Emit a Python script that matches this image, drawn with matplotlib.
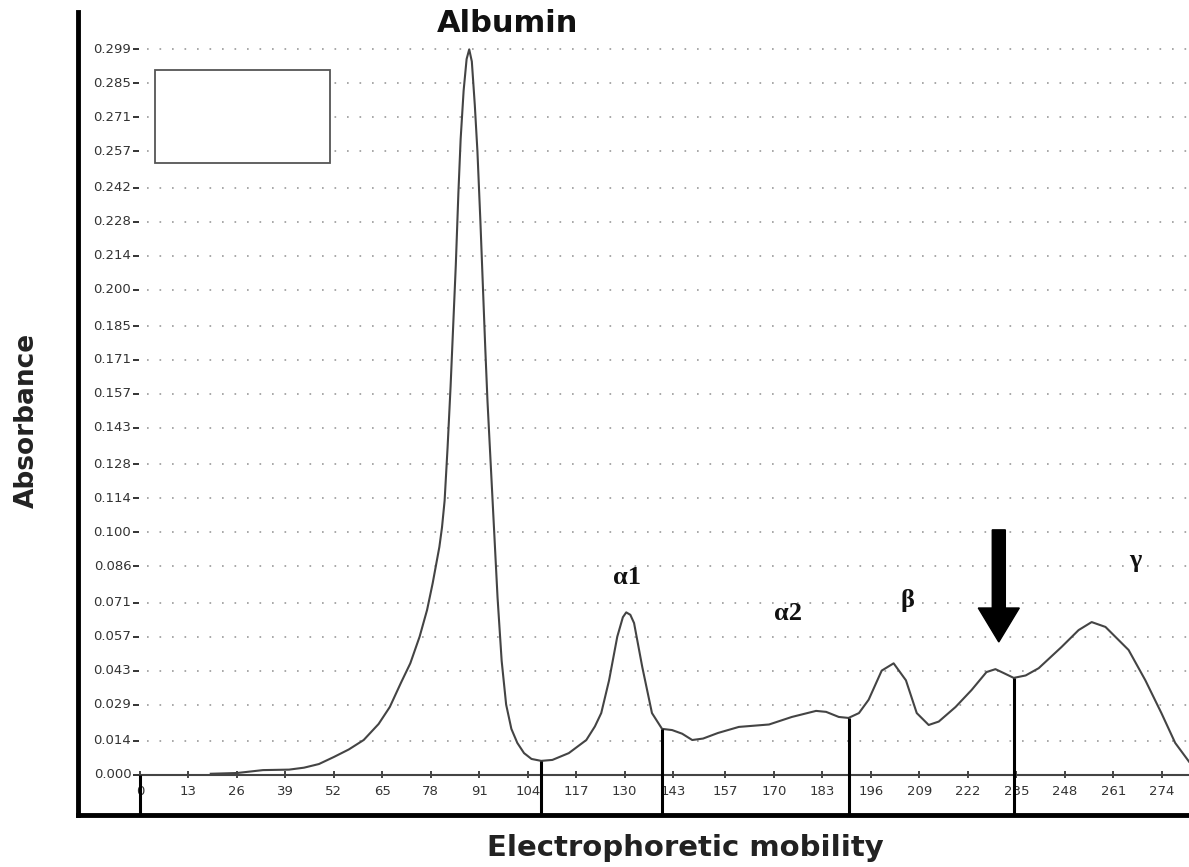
import numpy as np
import matplotlib.pyplot as plt
from matplotlib.patches import Rectangle

# densitometry trace
mobility = [19, 26, 33, 40, 44, 48, 52, 56, 60, 64, 67, 70, 72.5, 75, 77, 78.5,
            80.3, 81.0, 81.7, 82.5, 83.3, 84.0, 84.7, 85.4, 86.0, 86.8, 87.6,
            88.3, 89.0, 89.8, 90.5, 91.3, 92.0, 92.6, 93.2, 94.1, 95.0, 95.9,
            97.0, 98.2, 99.6, 101.2, 103, 105, 107.6, 110.6, 115, 119.7, 122,
            123.7, 125.8, 128.0, 129.5, 130.4, 131.5, 132.5, 134.7, 137.3, 140.0,
            142.7, 145.4, 148.1, 151, 155, 160.6, 168.7, 174.8, 181.3, 184,
            187.4, 190, 192.8, 195.4, 198.9, 202.1, 205.4, 208.3, 211.5, 214.2,
            218.7, 223, 227, 229.4, 231.6, 234.3, 237.5, 241, 247.1, 251.7,
            255.2, 258.9, 265.1, 269.6, 273.9, 277.6, 281.3]
absorbance = [0.0005, 0.0008, 0.0020, 0.0022, 0.0030, 0.0045, 0.0074, 0.0105,
              0.0144, 0.021, 0.028, 0.038, 0.046, 0.057, 0.068, 0.079,
              0.094, 0.102, 0.113, 0.135, 0.160, 0.185, 0.210, 0.240, 0.262,
              0.282, 0.295, 0.299, 0.294, 0.276, 0.257, 0.228, 0.200, 0.176,
              0.154, 0.127, 0.100, 0.073, 0.047, 0.029, 0.019, 0.0132, 0.0090,
              0.0066, 0.0058, 0.0062, 0.009, 0.0144, 0.020, 0.0255, 0.039,
              0.057, 0.065, 0.067, 0.066, 0.0626, 0.0445, 0.0255, 0.0190,
              0.0185, 0.0170, 0.0144, 0.0150, 0.0173, 0.0198, 0.0208, 0.0239,
              0.0264, 0.026, 0.0239, 0.0235, 0.0255, 0.031, 0.043, 0.046, 0.039,
              0.0255, 0.0206, 0.022, 0.028, 0.035, 0.0424, 0.0436, 0.042, 0.040,
              0.041, 0.044, 0.0527, 0.0597, 0.063, 0.061, 0.0515, 0.039, 0.0255,
              0.0132, 0.0055]

fraction_cuts = [107.6, 140.0, 190.0, 234.3]
x_ticks = [0, 13, 26, 39, 52, 65, 78, 91, 104, 117, 130, 143, 157, 170, 183,
           196, 209, 222, 235, 248, 261, 274]
y_ticks = ['0.000', '0.014', '0.029', '0.043', '0.057', '0.071', '0.086',
           '0.100', '0.114', '0.128', '0.143', '0.157', '0.171', '0.185',
           '0.200', '0.214', '0.228', '0.242', '0.257', '0.271', '0.285', '0.299']
fractions = ['α1', 'α2', 'β', 'γ']
fraction_pos = [(130.5, 0.0812), (173.8, 0.0665), (205.9, 0.0720), (267, 0.0885)]

fig = plt.figure(figsize=(11.89, 8.67), dpi=100)
ax = fig.add_axes([78 / 1189, 52 / 867, 1111 / 1189, 803 / 867])
x0, x1 = -16.6, 281.3
y0, y1 = -0.0165, 0.3144
ax.set_xlim(x0, x1)
ax.set_ylim(y0, y1)
ax.set_xticks([])
ax.set_yticks([])
for s in ['top', 'right']:
    ax.spines[s].set_visible(False)
for s in ['left', 'bottom']:
    ax.spines[s].set_linewidth(3.5)
    ax.spines[s].set_color('black')

# dotted grid + y labels
for lab in y_ticks:
    v = float(lab)
    if v > 0:
        ax.hlines(v, 2, x1, colors='#9a9a9a', lw=1.2, linestyles=(0, (1, 6.5)), zorder=1)
    ax.hlines(v, -1.9, -0.3, colors='#333333', lw=1.4, zorder=3)
    ax.text(-2.3, v, lab, ha='right', va='center', fontsize=9.5, color='#333333')

# inner x axis
ax.hlines(0, 0, x1, colors='#444444', lw=1.5, zorder=3)
for t in x_ticks:
    ax.vlines(t, -0.0012, 0.0017, colors='#444444', lw=1.4, zorder=3)
    ax.text(t, -0.0067, str(t), ha='center', va='center', fontsize=9.5, color='#333333')

# empty legend box
ax.add_patch(Rectangle((4.0, 0.2521), 46.9, 0.0384, facecolor='white',
                       edgecolor='#555555', lw=1.3, zorder=2))

ax.plot(mobility, absorbance, color='#444444', lw=1.5, zorder=4)

# fraction dividers
ax.vlines(0, y0, 0, colors='black', lw=2.2, zorder=5)
for c in fraction_cuts:
    ax.vlines(c, y0, np.interp(c, mobility, absorbance), colors='black', lw=2.2, zorder=5)

ax.text(98.5, 0.3095, 'Albumin', ha='center', va='center', fontsize=22,
        fontweight='bold', color='#111111')
for lab, (px, py) in zip(fractions, fraction_pos):
    ax.text(px, py, lab, ha='center', va='center', fontsize=19,
            fontweight='bold', family='Liberation Serif', color='#111111')

ax.arrow(230.3, 0.101, 0, -0.0462, width=3.5, head_width=11, head_length=0.014,
         length_includes_head=True, color='black', zorder=6)

fig.text(27 / 1189, 1 - 420 / 867, 'Absorbance', rotation=90, ha='center',
         va='center', fontsize=19, fontweight='bold', color='#222222')
fig.text(685 / 1189, 1 - 848 / 867, 'Electrophoretic mobility', ha='center',
         va='center', fontsize=21, fontweight='bold', color='#222222')

fig.savefig('out.png', dpi=100)
